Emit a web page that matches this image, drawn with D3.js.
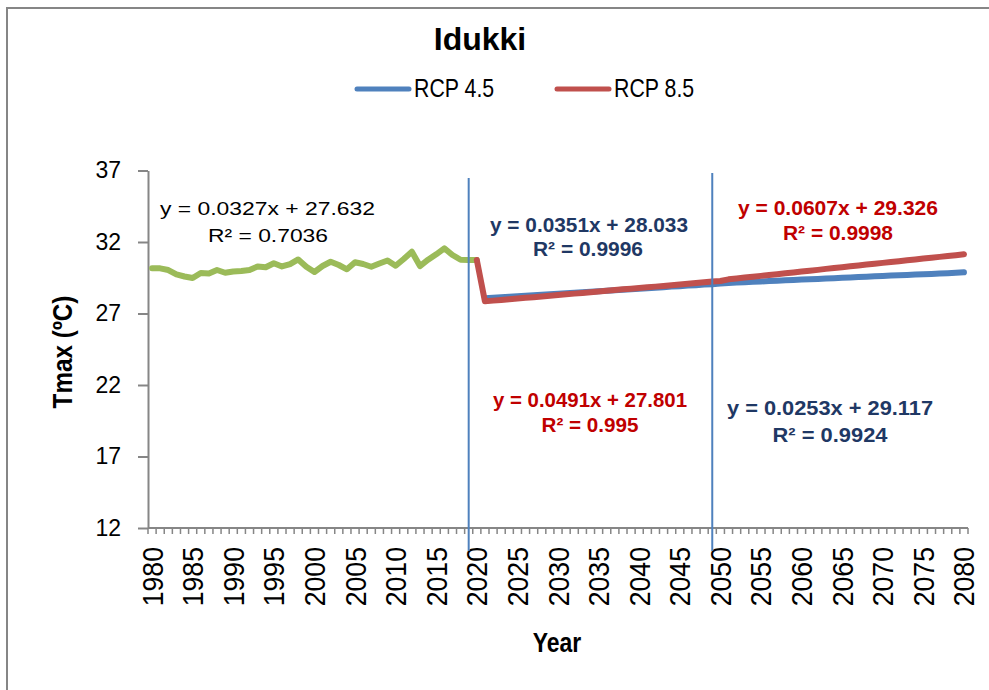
<!DOCTYPE html>
<html>
<head>
<meta charset="utf-8">
<script src="https://cdn.jsdelivr.net/npm/d3@7"></script>
<style>
body { margin: 0; background: #fff; }
svg { display: block; }
text { font-family: "Liberation Sans", Arial, sans-serif; }
</style>
</head>
<body>
<div id="chart"></div>
<script>
// data
var years = d3.range(1980, 2081)
var xLabelYears = d3.range(1980, 2081, 5)
var yTicks = [12, 17, 22, 27, 32, 37]

var histYears = d3.range(1980, 2021)
var histTmax = [30.16, 30.16, 30.04, 29.73, 29.59, 29.48, 29.83, 29.80, 30.04, 29.85,
                29.94, 29.97, 30.04, 30.29, 30.23, 30.51, 30.29, 30.46, 30.78, 30.27,
                29.90, 30.32, 30.62, 30.39, 30.09, 30.58, 30.46, 30.27, 30.50, 30.71,
                30.34, 30.81, 31.32, 30.32, 30.76, 31.14, 31.56, 31.09, 30.76, 30.74, 30.74]

var rcp45Years = d3.range(2021, 2081)
var rcp45 = [28.07, 28.10, 28.14, 28.17, 28.21, 28.24, 28.28, 28.31, 28.35, 28.38,
             28.42, 28.45, 28.49, 28.52, 28.56, 28.59, 28.63, 28.66, 28.70, 28.73,
             28.77, 28.80, 28.84, 28.88, 28.91, 28.95, 28.98, 29.02, 29.05, 29.09,
             29.14, 29.17, 29.19, 29.22, 29.24, 29.27, 29.29, 29.32, 29.34, 29.37,
             29.39, 29.42, 29.44, 29.47, 29.50, 29.52, 29.55, 29.57, 29.60, 29.62,
             29.65, 29.67, 29.70, 29.72, 29.75, 29.77, 29.80, 29.82, 29.85, 29.88]

var rcp85Years = d3.range(2020, 2081)
var rcp85 = [30.74,
             27.85, 27.90, 27.95, 28.00, 28.05, 28.10, 28.14, 28.19, 28.24, 28.29,
             28.34, 28.39, 28.44, 28.49, 28.54, 28.59, 28.64, 28.69, 28.73, 28.78,
             28.83, 28.88, 28.93, 28.98, 29.03, 29.08, 29.13, 29.18, 29.23, 29.27,
             29.39, 29.45, 29.51, 29.57, 29.63, 29.69, 29.75, 29.81, 29.87, 29.93,
             29.99, 30.05, 30.12, 30.18, 30.24, 30.30, 30.36, 30.42, 30.48, 30.54,
             30.60, 30.66, 30.72, 30.78, 30.84, 30.90, 30.96, 31.02, 31.08, 31.15]

var splitYears = [2019, 2049]
var seriesNames = ["RCP 4.5", "RCP 8.5"]

var green = "#9BBB59", blue = "#4F81BD", red = "#C0504D"
var navyText = "#1F3864", redText = "#C00000", axisGray = "#868686"

var svg = d3.select("#chart").append("svg")
    .attr("width", 989)
    .attr("height", 690)

// outer chart frame
svg.append("rect")
    .attr("x", 7).attr("y", 8)
    .attr("width", 1000).attr("height", 700)
    .attr("fill", "none")
    .attr("stroke", axisGray)
    .attr("stroke-width", 2)

// scales
var x = d3.scaleBand()
    .domain(years)
    .range([148, 968])
var cx = function(d) { return x(d) + x.bandwidth() / 2 }

var y = d3.scaleLinear()
    .domain([12, 37])
    .range([528, 170.5])

// no narrow font installed, so squeeze text horizontally
function narrowText(parent, txt, px, py, size, squeeze, rotate) {
    return parent.append("text")
        .attr("transform", "translate(" + px + "," + py + ")" + (rotate ? " rotate(-90)" : "") + " scale(" + squeeze + ",1)")
        .attr("font-size", size)
        .text(txt)
}

// title
svg.append("text")
    .attr("x", 480).attr("y", 50)
    .attr("text-anchor", "middle")
    .attr("font-size", 32).attr("font-weight", "bold")
    .text("Idukki")

// legend
var legend = svg.append("g")
seriesNames.forEach(function(name, i) {
    legend.append("line")
        .attr("x1", 357 + i * 200).attr("x2", 409 + i * 200)
        .attr("y1", 89).attr("y2", 89)
        .attr("stroke", i == 0 ? blue : red)
        .attr("stroke-width", 5)
        .attr("stroke-linecap", "round")
    narrowText(legend, name, 414 + i * 200, 97, 26, 0.82)
})

// y axis
var yAxis = svg.append("g")
    .attr("transform", "translate(148,0)")
    .call(d3.axisLeft(y).tickValues(yTicks).tickSize(10).tickSizeOuter(0).tickPadding(17))
yAxis.select(".domain").attr("stroke", axisGray).attr("stroke-width", 2)
yAxis.selectAll(".tick line").attr("stroke", axisGray).attr("stroke-width", 2)
yAxis.selectAll(".tick text")
    .attr("font-family", "Liberation Sans, Arial, sans-serif")
    .attr("font-size", 23)
    .attr("fill", "#000")

// x axis: line, a tick at every category boundary, label every 5 years
var xAxis = svg.append("g")
xAxis.append("line")
    .attr("x1", x.range()[0]).attr("x2", x.range()[1])
    .attr("y1", y(12)).attr("y2", y(12))
    .attr("stroke", axisGray).attr("stroke-width", 2)
xAxis.selectAll(".xtick")
    .data(years.map(function(d) { return x(d) }).concat([x.range()[1]]))
    .enter().append("line")
    .attr("class", "xtick")
    .attr("x1", function(d) { return d }).attr("x2", function(d) { return d })
    .attr("y1", y(12)).attr("y2", y(12) + 6)
    .attr("stroke", axisGray).attr("stroke-width", 1.5)
xLabelYears.forEach(function(yr) {
    narrowText(xAxis, yr, cx(yr) + 10.5, 547, 29, 0.92, true)
        .attr("text-anchor", "end")
})

// axis titles
narrowText(svg, "Tmax (ºC)", 72, 352, 27, 0.9, true)
    .attr("text-anchor", "middle")
    .attr("font-weight", "bold")
narrowText(svg, "Year", 557, 652, 28, 0.82)
    .attr("text-anchor", "middle")
    .attr("font-weight", "bold")

// lines
var line = d3.line()
    .x(function(d) { return cx(d[0]) })
    .y(function(d) { return y(d[1]) })

function drawSeries(yrs, vals, color) {
    svg.append("path")
        .datum(d3.zip(yrs, vals))
        .attr("d", line)
        .attr("fill", "none")
        .attr("stroke", color)
        .attr("stroke-width", 6)
        .attr("stroke-linejoin", "round")
        .attr("stroke-linecap", "round")
}
drawSeries(histYears, histTmax, green)
drawSeries(rcp45Years, rcp45, blue)
drawSeries(rcp85Years, rcp85, red)

// period separators
svg.selectAll(".split")
    .data(splitYears)
    .enter().append("line")
    .attr("class", "split")
    .attr("x1", function(d) { return cx(d) }).attr("x2", function(d) { return cx(d) })
    .attr("y1", function(d, i) { return i == 0 ? 178 : 173 })
    .attr("y2", 551)
    .attr("stroke", blue).attr("stroke-width", 2)

// trend line equations
function note(txt, px, py, len, color, bold, anchor) {
    svg.append("text")
        .attr("x", px).attr("y", py)
        .attr("text-anchor", anchor || "middle")
        .attr("font-size", bold ? 21 : 19)
        .attr("font-weight", bold ? "bold" : "normal")
        .attr("fill", color)
        .attr("textLength", len)
        .attr("lengthAdjust", "spacingAndGlyphs")
        .text(txt)
}
note("y = 0.0327x + 27.632", 160, 215, 215, "#000", false, "start")
note("R² = 0.7036", 208, 242, 120, "#000", false, "start")
note("y = 0.0351x + 28.033", 589, 232, 198, navyText, true)
note("R² = 0.9996", 588, 256, 110, navyText, true)
note("y = 0.0607x + 29.326", 838, 215, 200, redText, true)
note("R² = 0.9998", 838, 240, 110, redText, true)
note("y = 0.0491x + 27.801", 590, 407, 194, redText, true)
note("R² = 0.995", 590, 432, 97, redText, true)
note("y = 0.0253x + 29.117", 830, 415, 206, navyText, true)
note("R² = 0.9924", 830, 442, 115, navyText, true)
</script>
</body>
</html>
